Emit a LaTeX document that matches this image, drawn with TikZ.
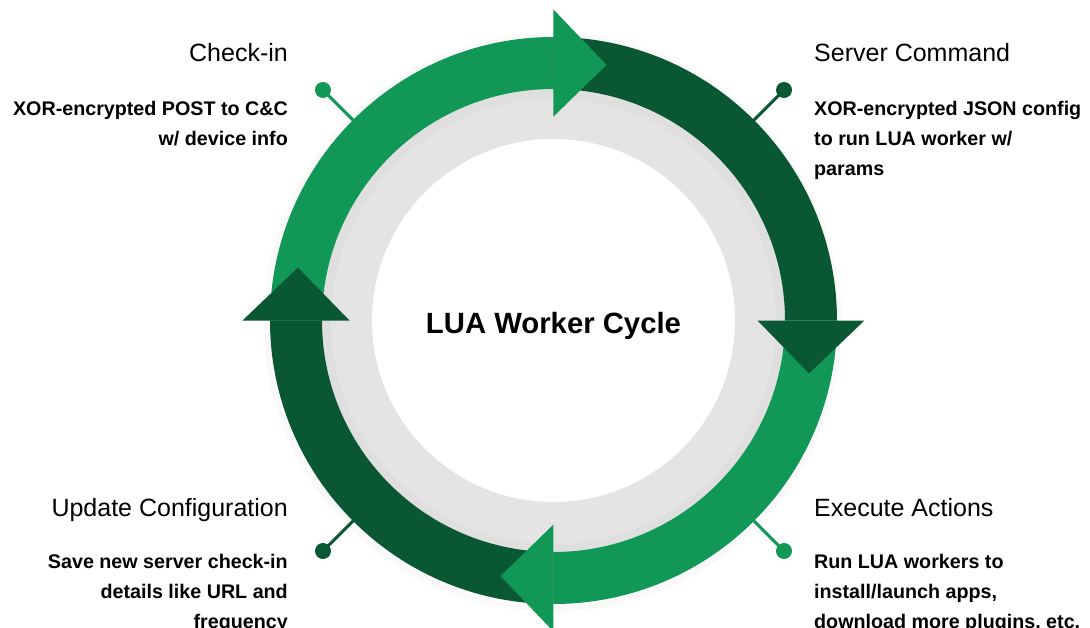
\documentclass[tikz,border=0pt]{standalone}
\usepackage{fontspec}
\setmainfont{Liberation Sans}
\usepackage{tikz}
\usetikzlibrary{positioning}

\definecolor{lgreen}{HTML}{129856}
\definecolor{dgreen}{HTML}{0A5833}
\definecolor{ringgrey}{HTML}{E4E4E4}

\tikzset{
    head/.style={font=\fontsize{25}{30}\selectfont, inner sep=0pt},
    desc/.style={font=\bfseries\fontsize{19.7}{30}\selectfont, inner sep=0pt},
    pin/.style={circle, inner sep=0pt, minimum size=16pt},
    pinline/.style={line width=3pt}
}

\begin{document}
\begin{tikzpicture}[x=1pt, y=1pt]
    \useasboundingbox (-553.5,-306.5) rectangle (536.5,320.5);
    \clip (-553.5,-306.5) rectangle (536.5,320.5);

    % grey ring and soft shadows
    \fill[ringgrey] (0,0) circle (232);
    \foreach \r in {284,286,288}
    {
    \draw[black, opacity=0.015, line width=3pt] (-1,-2) circle (\r);
    }
    \foreach \r in {230,227,224}
    {
    \draw[black, opacity=0.02, line width=3pt] (0,-1) circle (\r);
    }
    \fill[white] (0,0) circle (181.5);

    % arc bodies
    \foreach \a/\c in {180/lgreen, 90/dgreen, 0/lgreen, -90/dgreen}
    {
    \fill[\c] (\a:283.5) arc[start angle=\a, end angle=\a-90, radius=283.5]
        -- (\a-90:231.5) arc[start angle=\a-90, end angle=\a, radius=231.5] -- cycle;
    }
    % arrow heads
    \foreach \a/\c in {180/lgreen, 90/dgreen, 0/lgreen, -90/dgreen}
    {
    \fill[\c] (\a-90:204) -- (\a-90:311) -- (\a-101.7:261) -- cycle;
    }

    \node[font=\bfseries\fontsize{29.3}{30}\selectfont, anchor=base] (title) at (0,-12.5) {LUA Worker Cycle};

    % pins
    \node[pin, fill=lgreen] (p1) at (135:326) {};
    \node[pin, fill=dgreen] (p2) at (45:326) {};
    \node[pin, fill=lgreen] (p3) at (-45:326) {};
    \node[pin, fill=dgreen] (p4) at (-135:326) {};
    \coordinate (e1) at (135:282);
    \coordinate (e2) at (45:282);
    \coordinate (e3) at (-45:282);
    \coordinate (e4) at (-135:282);
    \draw[pinline, lgreen] (p1.center) -- (e1);
    \draw[pinline, dgreen] (p2.center) -- (e2);
    \draw[pinline, lgreen] (p3.center) -- (e3);
    \draw[pinline, dgreen] (p4.center) -- (e4);

    % texts (base anchor sits on the last line)
    \node[head, anchor=base east] (checkin) at (-265.5,258.5) {Check-in};
    \node[desc, anchor=base east, align=right] (checkintxt) at (-265.5,175) {XOR-encrypted POST to C\&C\\w/ device info};
    \node[head, anchor=base west] (server) at (260.5,258.5) {Server Command};
    \node[desc, anchor=base west, align=left] (servertxt) at (260.5,145) {XOR-encrypted JSON config\\to run LUA worker w/\\params};
    \node[head, anchor=base east] (update) at (-265.5,-195.5) {Update Configuration};
    \node[desc, anchor=base east, align=right] (updatetxt) at (-265.5,-307.5) {Save new server check-in\\details like URL and\\frequency};
    \node[head, anchor=base west] (execute) at (260.5,-195.5) {Execute Actions};
    \node[desc, anchor=base west, align=left] (executetxt) at (260.5,-307.5) {Run LUA workers to\\install/launch apps,\\download more plugins, etc.};
\end{tikzpicture}
\end{document}
